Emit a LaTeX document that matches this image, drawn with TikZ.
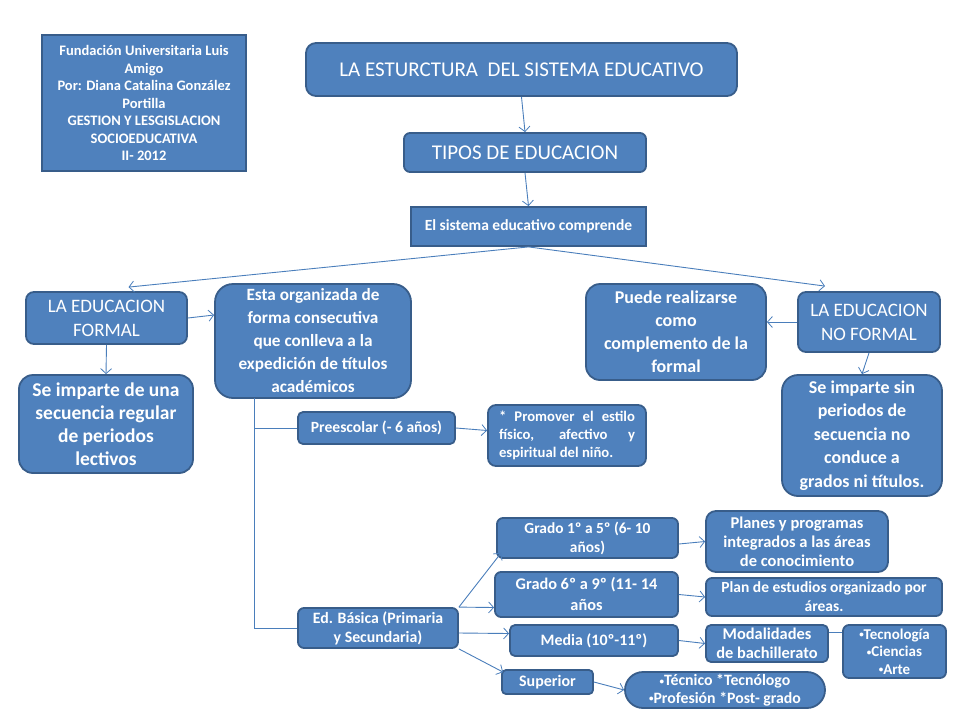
\documentclass[tikz,border=0pt]{standalone}
\usepackage{fontspec}
\setmainfont{Carlito}
\usetikzlibrary{arrows.meta}
\definecolor{boxfill}{HTML}{4F81BD}
\definecolor{boxline}{HTML}{385D8A}
\definecolor{conn}{HTML}{4A7EBB}
\newcommand{\bul}{{\fontsize{9}{9}\selectfont\raisebox{0.15em}{•}}}
\tikzset{
  box/.style={draw=boxline, line width=1.8pt, fill=boxfill, text=white, align=center, inner sep=0pt},
  rbox/.style={box, rounded corners=#1},
  fs/.style n args={2}{font=\fontsize{#1}{#2}\selectfont},
  fsb/.style n args={2}{font=\fontsize{#1}{#2}\selectfont\bfseries},
  arr/.style={draw=conn, line width=0.9pt, -{Straight Barb[length=5pt,width=11pt,line width=0.8pt]}},
  ln/.style={draw=conn, line width=0.9pt},
}
\begin{document}
\begin{tikzpicture}[x=1pt,y=-1pt]
\useasboundingbox (0,0) rectangle (960,720);
% nodes
\node[box, fsb={14.5}{17.5}, minimum width=204, minimum height=136] (info) at (144,103)
  {Fundación Universitaria Luis\\Amigo\\Por: Diana Catalina González\\Portilla\\GESTION Y LESGISLACION\\SOCIOEDUCATIVA\\II- 2012};
\node[rbox=10pt, fs={21}{24}, minimum width=431, minimum height=53] (title) at (521.5,69.5)
  {LA ESTURCTURA\ \ DEL SISTEMA EDUCATIVO};
\node[rbox=6pt, fs={21}{24}, minimum width=242, minimum height=39] (tipos) at (525,152.5)
  {TIPOS DE EDUCACION};
\node[box, fsb={15.5}{18}, minimum width=235, minimum height=39] (sistema) at (528.5,226.5)
  {El sistema educativo comprende};
\node[rbox=8pt, fs={19}{24}, minimum width=161, minimum height=52] (formal) at (106.5,318)
  {LA EDUCACION\\FORMAL};
\node[rbox=18pt, fsb={17.2}{23}, minimum width=196, minimum height=114] (esta) at (313,341)
  {Esta organizada de\\forma consecutiva\\que conlleva a la\\expedición de títulos\\académicos};
\node[rbox=14pt, fsb={19.5}{23}, minimum width=174, minimum height=98] (seimp) at (106,424)
  {Se imparte de una\\secuencia regular\\de periodos\\lectivos};
\node[rbox=14pt, fsb={18}{23}, minimum width=180, minimum height=96] (puede) at (676,332)
  {Puede realizarse\\como\\complemento de la\\formal};
\node[rbox=8pt, fs={19}{24}, minimum width=142, minimum height=60] (noformal) at (869,322)
  {LA EDUCACION\\NO FORMAL};
\node[rbox=16pt, fsb={18}{23.5}, minimum width=160, minimum height=121] (seimpsin) at (862,435.5)
  {Se imparte sin\\periodos de\\secuencia no\\conduce a\\grados ni títulos.};
\node[rbox=5pt, fsb={15.6}{18}, minimum width=157, minimum height=32] (pree) at (376.5,428)
  {Preescolar (- 6 años)};
\node[rbox=8pt, fsb={14.7}{18}, minimum width=158, minimum height=61, text width=136, align=justify] (prom) at (567,435.5)
  {* Promover el estilo\linebreak físico, afectivo y\linebreak espiritual del niño.};
\node[rbox=6pt, fsb={15.8}{19}, minimum width=160, minimum height=40] (basica) at (378,628)
  {Ed. Básica (Primaria\\y Secundaria)};
\node[rbox=6pt, fsb={15.4}{19}, minimum width=181, minimum height=40] (g1) at (587.5,538)
  {Grado 1º a 5º (6- 10\\años)};
\node[rbox=10pt, fsb={16.5}{19}, minimum width=182, minimum height=61] (planes) at (797,541.5)
  {Planes y programas\\integrados a las áreas\\de conocimiento};
\node[rbox=6pt, fsb={16.3}{21}, minimum width=183, minimum height=45] (g6) at (586.5,594.5)
  {Grado 6º a 9º (11- 14\\años};
\node[rbox=6pt, fsb={15.5}{19}, minimum width=236, minimum height=38] (plan) at (824,597)
  {Plan de estudios organizado por\\áreas.};
\node[rbox=5pt, fsb={15.9}{18}, minimum width=168, minimum height=31] (media) at (594,640.5)
  {Media (10º-11º)};
\node[rbox=5pt, fsb={16.4}{19}, minimum width=122, minimum height=37] (modal) at (767,643.5)
  {Modalidades\\de bachillerato};
\node[rbox=6pt, fsb={15}{17.5}, minimum width=103, minimum height=53] (tecno) at (894.5,651.5)
  {\bul Tecnología\\\bul Ciencias\\\bul Arte};
\node[rbox=4pt, fsb={16}{18}, minimum width=91, minimum height=24] (sup) at (547.5,682)
  {Superior};
\node[rbox=18pt, fsb={15.8}{17.5}, minimum width=200, minimum height=36] (tec) at (725,690)
  {\bul Técnico *Tecnólogo\\\bul Profesión *Post- grado};
% connectors
\draw[arr] (title.south) -- (tipos.north);
\draw[arr] (tipos.south) -- (sistema.north);
\draw[arr] (sistema.south) -- ([xshift=22pt,yshift=4pt]formal.north);
\draw[arr] (sistema.south) -- ([xshift=-44pt,yshift=5pt]noformal.north);
\draw[arr] (formal.east) -- ([yshift=26pt]esta.west);
\draw[arr] (formal.south) -- (seimp.north);
\draw[arr] (noformal.west) -- ([yshift=10pt]puede.east);
\draw[arr] (noformal.south) -- (seimpsin.north);
\coordinate (tr) at (254,398);
\draw[ln] (tr) |- (basica.west);
\draw[ln] (tr |- pree.west) -- (pree.west);
\draw[arr] (pree.east) -- ([yshift=5pt]prom.west);
\draw[arr] (basica.north east) -- ([xshift=5pt,yshift=6pt]g1.south west);
\draw[arr] (basica.north east) -- ([yshift=-13pt]g6.west);
\draw[arr] ([yshift=-5pt]basica.east) -- ([yshift=7pt]media.west);
\draw[arr] (basica.south east) -- ([xshift=2pt,yshift=-3pt]sup.north west);
\draw[arr] ([yshift=-6pt]g1.east) -- (planes.west);
\draw[arr] (g6.east) -- (plan.west);
\draw[arr] (media.east) -- (modal.west);
\draw[ln] ([yshift=11pt]modal.east) -- ([yshift=19pt]tecno.west);
\draw[arr] (sup.east) -- (tec.west);
\end{tikzpicture}
\end{document}
